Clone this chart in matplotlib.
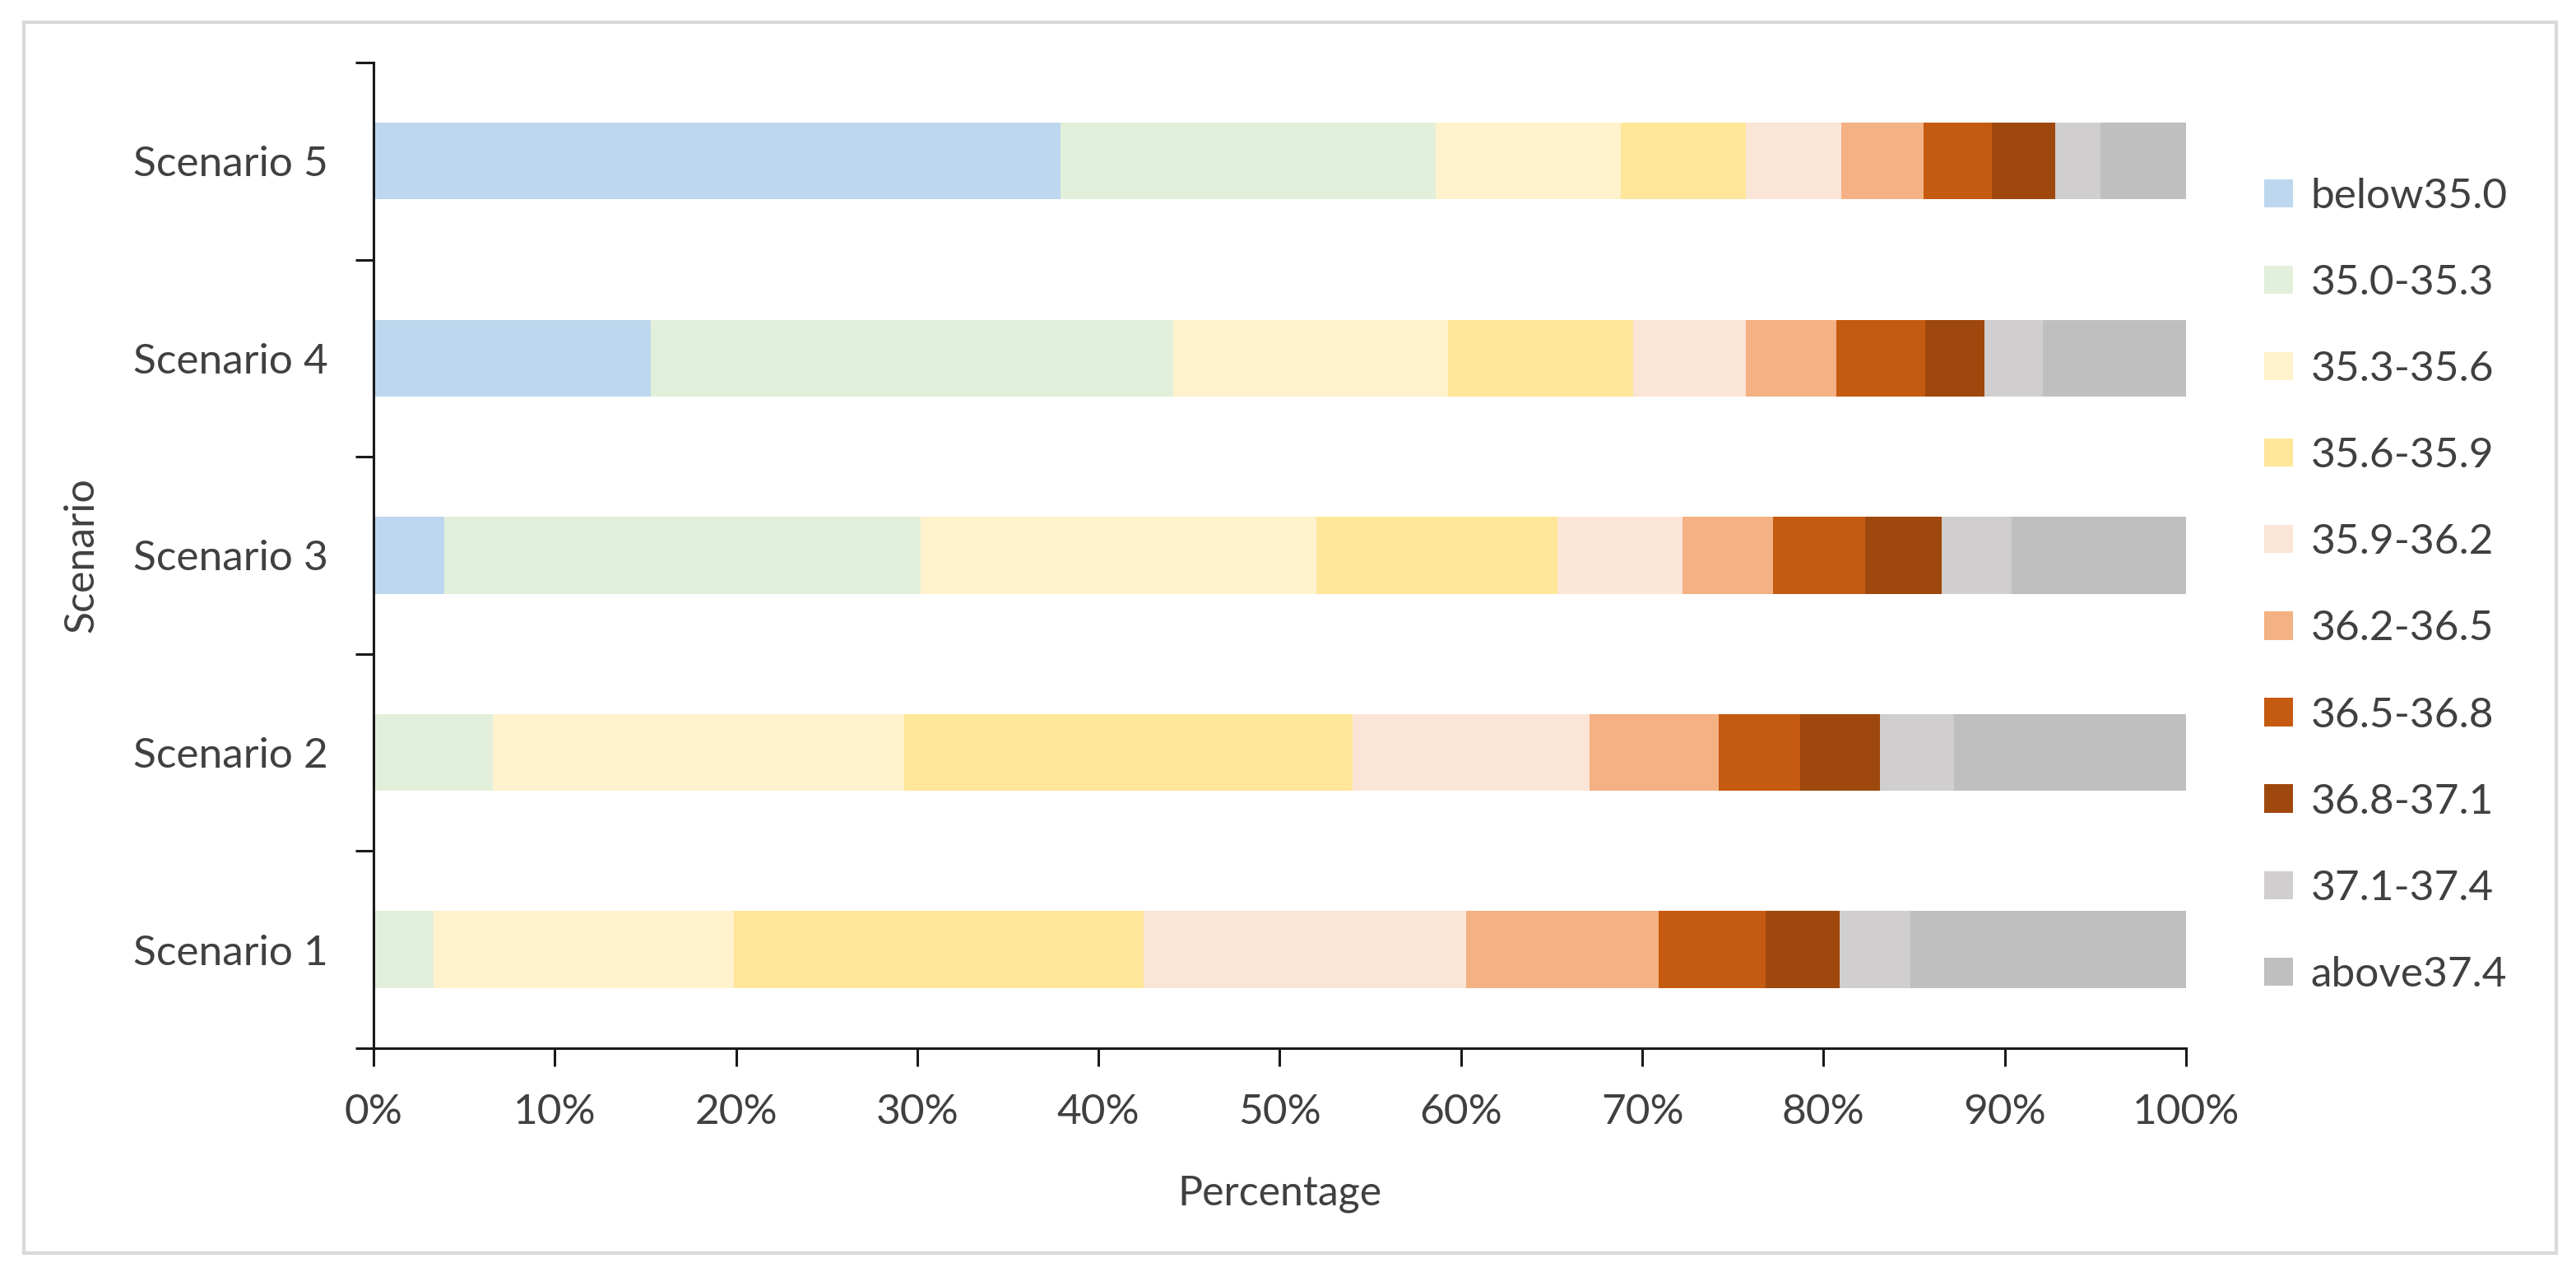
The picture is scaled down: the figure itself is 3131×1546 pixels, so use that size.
import numpy as np
import matplotlib
matplotlib.use("Agg")
import matplotlib.pyplot as plt
from matplotlib.patches import Rectangle
from matplotlib.ticker import MultipleLocator, FuncFormatter

# ─────────────────────────────────────────────
# DATA (percent of each scenario per temperature band)
# ─────────────────────────────────────────────
scenarios = ["Scenario 1", "Scenario 2", "Scenario 3", "Scenario 4", "Scenario 5"]
bands = ["below35.0", "35.0-35.3", "35.3-35.6", "35.6-35.9", "35.9-36.2",
         "36.2-36.5", "36.5-36.8", "36.8-37.1", "37.1-37.4", "above37.4"]

scenario_1 = [0.0, 3.3, 16.6, 22.6, 17.8, 10.6, 5.9, 4.1, 3.9, 15.2]
scenario_2 = [0.0, 6.6, 22.7, 24.7, 13.1, 7.1, 4.5, 4.4, 4.1, 12.8]
scenario_3 = [3.9, 26.3, 21.8, 13.3, 6.9, 5.0, 5.1, 4.2, 3.9, 9.6]
scenario_4 = [15.3, 28.8, 15.2, 10.2, 6.2, 5.0, 4.9, 3.3, 3.2, 7.9]
scenario_5 = [37.9, 20.7, 10.2, 6.9, 5.3, 4.5, 3.8, 3.5, 2.5, 4.7]

band_colors = ["#BDD7EE", "#E2EFDA", "#FFF2CC", "#FFE699", "#FBE5D6",
               "#F4B183", "#C55A11", "#9E480E", "#D0CECE", "#BFBFBF"]

TXT = "#404040"
plt.rcParams["font.family"] = ["Lato", "DejaVu Sans"]

# ─────────────────────────────────────────────
# PLOT
# ─────────────────────────────────────────────
values = np.array([scenario_1, scenario_2, scenario_3, scenario_4, scenario_5])
fig = plt.figure(figsize=(15.655, 7.73), dpi=200)
ax = fig.add_axes([0.145, 0.176, 0.7036, 0.7749])

y = np.arange(len(scenarios))
left = np.zeros(len(scenarios))
for j, band in enumerate(bands):
    ax.barh(y, values[:, j], left=left, height=0.39, color=band_colors[j],
            label=band, linewidth=0)
    left += values[:, j]

ax.set_xlim(0, 100)
ax.set_ylim(-0.5, len(scenarios) - 0.5)
ax.xaxis.set_major_locator(MultipleLocator(10))
ax.xaxis.set_major_formatter(FuncFormatter(lambda v, _: f"{v:.0f}%"))
ax.set_yticks(y)
ax.set_yticklabels(scenarios)
ax.set_yticks(np.arange(-0.5, len(scenarios)), minor=True)

for s in ["top", "right"]:
    ax.spines[s].set_visible(False)
for s in ["left", "bottom"]:
    ax.spines[s].set_linewidth(1.1)
    ax.spines[s].set_color("#1a1a1a")

ax.tick_params(axis="y", which="major", length=0, pad=20, labelsize=18.5, labelcolor=TXT)
ax.tick_params(axis="y", which="minor", length=8, width=1.1, color="#1a1a1a")
ax.tick_params(axis="x", which="major", length=8, width=1.1, color="#1a1a1a",
               pad=12, labelsize=18.5, labelcolor=TXT)

ax.set_xlabel("Percentage", fontsize=18, color=TXT, labelpad=19)
ax.set_ylabel("Scenario", fontsize=18, color=TXT, labelpad=14)

fig.legend(loc="upper left", bbox_to_anchor=(0.879, 0.8603), frameon=False,
           fontsize=18.5, labelcolor=TXT, handlelength=0.67, handleheight=0.65,
           handletextpad=0.43, labelspacing=1.15, borderpad=0, borderaxespad=0)

# thin light frame around the whole chart
fig.patches.append(Rectangle((29 / 3131, 1 - 1523 / 1546), (3107 - 29) / 3131,
                             (1523 - 27) / 1546, transform=fig.transFigure,
                             fill=False, edgecolor="#D9D9D9", linewidth=1.5))

plt.savefig("out.png", dpi=200, facecolor="white")
